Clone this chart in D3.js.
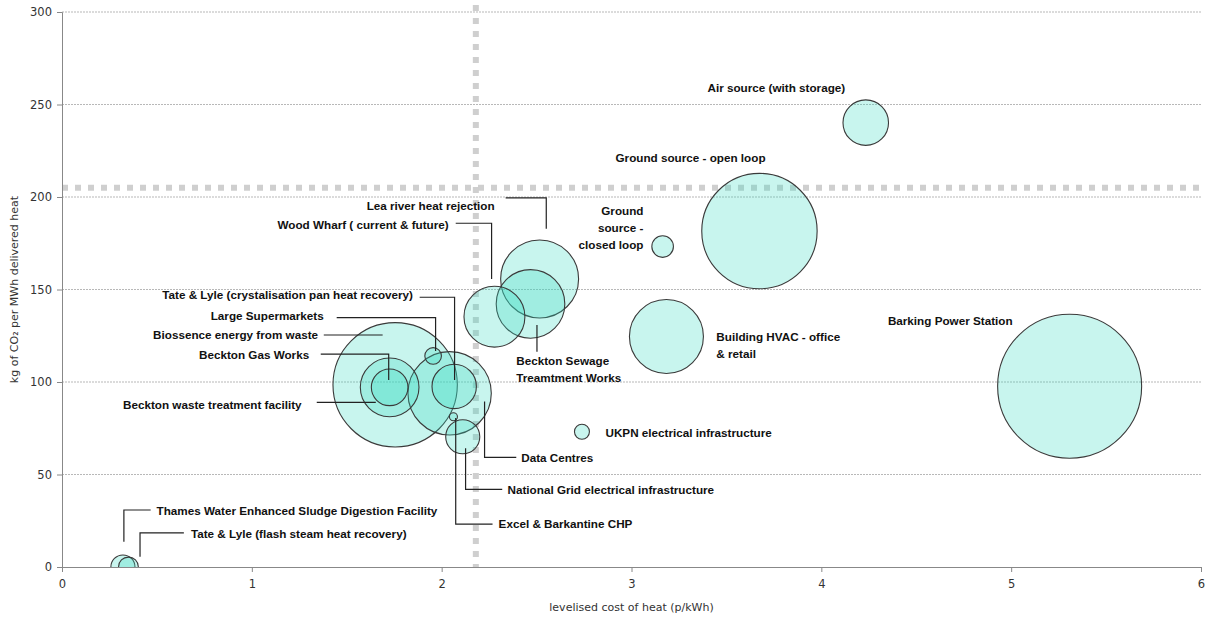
<!DOCTYPE html>
<html><head><meta charset="utf-8">
<script src="https://cdn.jsdelivr.net/npm/d3@7"></script>
<style>
html,body{margin:0;padding:0;background:#fff;}
svg{display:block;}
.lbl{font-family:"Liberation Sans Narrow","Arial Narrow","Liberation Sans",sans-serif;font-weight:bold;font-size:11.7px;fill:#111;}
.tick text{font-family:"DejaVu Sans",Verdana,sans-serif;font-size:11.5px;fill:#333;}
.ttl{font-family:"DejaVu Sans",Verdana,sans-serif;font-size:11px;fill:#333;}
</style></head><body>
<svg id="c" width="1207" height="621"></svg>
<script>
// ---- data ----
const names = ["Barking Power Station","Biossence energy from waste","Ground source - open loop","Data Centres","Lea river heat rejection","Building HVAC - office & retail","Beckton Sewage Treamtment Works","Wood Wharf ( current & future)","Beckton waste treatment facility","Tate & Lyle (crystalisation pan heat recovery)","Air source (with storage)","Beckton Gas Works","National Grid electrical infrastructure","Thames Water Enhanced Sludge Digestion Facility","Ground source - closed loop","Tate & Lyle (flash steam heat recovery)","Large Supermarkets","UKPN electrical infrastructure","Excel & Barkantine CHP"];
const costs  = [5.308,1.755,3.674,2.042,2.516,3.184,2.468,2.278,1.726,2.066,4.234,1.726,2.111,0.321,3.164,0.350,1.955,2.739,2.062];
const carbon = [97.7,98.5,181.6,93.9,155.7,124.6,142.2,135.3,97.1,97.6,240.2,97.1,70.4,0,173.2,0,114.1,73.1,81.2];
const sizes  = [100,74.6,64.2,33.5,29.3,26.4,22.7,17.9,16.6,9.5,10.0,6.46,5.6,2.8,2.25,1.9,1.33,1.08,0.31];

const xTicks = [0,1,2,3,4,5,6];
const yTicks = [0,50,100,150,200,250,300];
const refCost = 2.18, refCarbon = 205;

// annotation text: [lines, x, y, anchor]
const labels = [
  [["Air source (with storage)"],3.763,259.5,"middle"],
  [["Ground source - open loop"],3.311,221.6,"middle"],
  [["Ground","source -","closed loop"],3.063,193.0,"end"],
  [["Barking Power  Station"],4.679,133.5,"middle"],
  [["Building HVAC - office","& retail"],3.447,124.9,"start"],
  [["UKPN electrical infrastructure"],2.863,72.8,"start"],
  [["Beckton Sewage","Treamtment Works"],2.393,111.9,"start"],
  [["Lea river heat rejection"],2.279,195.7,"end"],
  [["Wood Wharf ( current & future)"],2.037,185.4,"end"],
  [["Tate & Lyle (crystalisation pan heat recovery)"],1.849,147.6,"end"],
  [["Large Supermarkets"],1.379,136.2,"end"],
  [["Biossence energy from waste"],1.349,125.8,"end"],
  [["Beckton Gas Works"],1.302,115.3,"end"],
  [["Beckton waste treatment facility"],1.262,88.1,"end"],
  [["Data Centres"],2.419,59.5,"start"],
  [["National Grid electrical infrastructure"],2.347,42.2,"start"],
  [["Excel & Barkantine CHP"],2.300,23.6,"start"],
  [["Thames Water Enhanced Sludge Digestion Facility"],0.498,30.8,"start"],
  [["Tate & Lyle (flash steam heat recovery)"],0.679,18.2,"start"]
];
const leaders = [
  [[2.337,199.5],[2.551,199.5],[2.551,182.9]],
  [[2.074,185.8],[2.263,185.8],[2.263,155.7]],
  [[2.502,130.8],[2.502,116.4]],
  [[1.884,145.8],[2.068,145.8],[2.068,101.1]],
  [[1.447,134.8],[1.968,134.8],[1.968,116.8]],
  [[1.379,125.4],[1.689,125.4]],
  [[1.363,115.1],[1.721,115.1],[1.721,101.1]],
  [[1.342,89.0],[1.653,89.0]],
  [[2.226,89.4],[2.226,59.3],[2.393,59.3]],
  [[2.126,64.2],[2.126,42.0],[2.319,42.0]],
  [[2.074,80.5],[2.074,23.2],[2.268,23.2]],
  [[0.326,13.7],[0.326,30.8],[0.467,30.8]],
  [[0.411,5.6],[0.411,18.5],[0.642,18.5]]
];

// ---- chart ----
const W=1207,H=621, m={l:62,t:12,r:6,b:54};
const svg=d3.select("#c");
const x=d3.scaleLinear().domain([0,6]).range([m.l,W-m.r]);
const y=d3.scaleLinear().domain([0,300]).range([H-m.b,m.t]);
const r=d3.scaleSqrt().domain([0,100]).range([0,72]);

svg.append("defs").append("clipPath").attr("id","pc")
  .append("rect").attr("x",m.l).attr("y",0).attr("width",W-m.l-m.r+2).attr("height",H-m.b);

// gridlines
svg.append("g").selectAll("line").data(yTicks.filter(d=>d>0)).join("line")
  .attr("x1",x(0)).attr("x2",x(6)).attr("y1",d=>y(d)).attr("y2",d=>y(d))
  .attr("stroke","#999").attr("stroke-width",0.7).attr("stroke-dasharray","2,1");

// reference lines
svg.append("line").attr("x1",x(0)).attr("x2",x(6)+2).attr("y1",y(refCarbon)).attr("y2",y(refCarbon))
  .attr("stroke","#cfcfcf").attr("stroke-width",6).attr("stroke-dasharray","6,7");
svg.append("line").attr("x1",x(refCost)).attr("x2",x(refCost)).attr("y1",5).attr("y2",y(0))
  .attr("stroke","#cfcfcf").attr("stroke-width",6).attr("stroke-dasharray","6,7");

// axes
const xa=svg.append("g").attr("transform",`translate(0,${y(0)})`)
  .call(d3.axisBottom(x).tickValues(xTicks).tickFormat(d3.format("d")).tickSize(5).tickPadding(8));
const ya=svg.append("g").attr("transform",`translate(${x(0)},0)`)
  .call(d3.axisLeft(y).tickValues(yTicks).tickFormat(d3.format("d")).tickSize(5).tickPadding(5));
[xa,ya].forEach(a=>{a.select(".domain").attr("stroke","#888");a.selectAll(".tick line").attr("stroke","#888");});

// bubbles
const data=names.map((n,i)=>({n,x:costs[i],y:carbon[i],s:sizes[i]}));
svg.append("g").attr("clip-path","url(#pc)").selectAll("circle").data(data).join("circle")
  .attr("cx",d=>x(d.x)).attr("cy",d=>y(d.y)).attr("r",d=>r(d.s))
  .attr("fill","rgba(52,218,192,0.27)").attr("stroke","#3a3a3a").attr("stroke-width",1.1);

// leaders
const line=d3.line().x(d=>x(d[0])).y(d=>y(d[1]));
svg.append("g").selectAll("path").data(leaders).join("path")
  .attr("d",line).attr("fill","none").attr("stroke","#222").attr("stroke-width",1.2);

// labels
const lg=svg.append("g");
labels.forEach(([lines,lx,ly,anc])=>{
  const t=lg.append("text").attr("class","lbl").attr("text-anchor",anc)
    .attr("x",x(lx)).attr("y",y(ly)).attr("dominant-baseline","central");
  lines.forEach((s,i)=>t.append("tspan").attr("x",x(lx)).attr("dy",i?17:0).text(s));
});

// axis titles
svg.append("text").attr("class","ttl").attr("text-anchor","middle")
  .attr("x",(x(0)+x(6))/2).attr("y",611).text("levelised cost of heat (p/kWh)");
svg.append("text").attr("class","ttl").attr("text-anchor","middle")
  .attr("transform",`translate(18,${(y(0)+y(300))/2}) rotate(-90)`)
  .text("kg of CO₂ per MWh delivered heat");
</script></body></html>
